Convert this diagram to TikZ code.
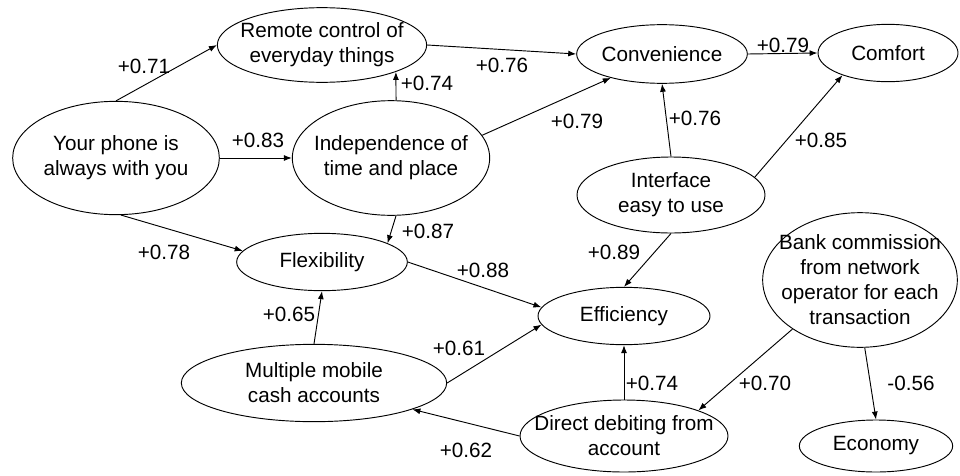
\documentclass[tikz,border=0pt]{standalone}
\usepackage{fontspec}
\setmainfont{Liberation Sans}
\usetikzlibrary{shapes.geometric,arrows.meta}

\begin{document}
\begin{tikzpicture}[x=0.75pt, y=-0.75pt,
  every node/.style={font=\fontsize{15.5}{18.75}\selectfont},
  factor/.style={ellipse, draw, line width=0.7pt, inner sep=-20pt, align=center},
  link/.style={-{Latex[length=6pt,width=4.5pt]}, line width=0.7pt},
  weight/.style={inner sep=0pt}]
  \useasboundingbox (0,0) rectangle (960,475);

  % Factors
  \node[factor, minimum width=155pt, minimum height=85pt] (phone) at (116,158) {Your phone is\\always with you};
  \node[factor, minimum width=157pt, minimum height=56pt] (remote) at (322,45) {Remote control of\\everyday things};
  \node[factor, minimum width=148pt, minimum height=86pt] (indep) at (391,158) {Independence of\\time and place};
  \node[factor, minimum width=128pt, minimum height=44pt] (conv) at (662,54) {Convenience};
  \node[factor, minimum width=105pt, minimum height=43pt] (comfort) at (888,53) {Comfort};
  \node[factor, minimum width=141pt, minimum height=57pt] (iface) at (671,195) {Interface\\easy to use};
  \node[factor, minimum width=128pt, minimum height=43pt] (flex) at (322,262) {Flexibility};
  \node[factor, minimum width=129pt, minimum height=43pt] (eff) at (624,316) {Efficiency};
  \node[factor, minimum width=146pt, minimum height=101pt] (bank) at (860,280) {Bank commission\\from network\\operator for each\\transaction};
  \node[factor, minimum width=199pt, minimum height=58pt] (multi) at (314,383) {Multiple mobile\\cash accounts};
  \node[factor, minimum width=156pt, minimum height=54pt] (direct) at (624,436) {Direct debiting from\\account};
  \node[factor, minimum width=115pt, minimum height=39pt] (econ) at (876,446) {Economy};

  % Paths
  \draw[link] (phone.north) -- (remote.west);
  \draw[link] (phone.east) -- (indep.west);
  \draw[link] (phone.-85) -- (flex.172);
  \draw[link] (indep.85) -- (remote.-20);
  \draw[link] (remote.east) -- (conv.west);
  \draw[link] (indep.14) -- (conv.-155);
  \draw[link] (conv.east) -- (comfort.west);
  \draw[link] (iface.north) -- (conv.south);
  \draw[link] (iface.12) -- (comfort.-154);
  \draw[link] (indep.-85) -- (flex.16);
  \draw[link] (flex.east) -- (eff.174);
  \draw[link] (iface.south) -- (eff.north);
  \draw[link] (multi.north) -- (flex.south);
  \draw[link] (multi.east) -- (eff.186);
  \draw[link] (direct.north) -- (eff.south);
  \draw[link] (direct.west) -- (multi.-15);
  \draw[link] (bank.-144) -- (direct.19);
  \draw[link] (bank.-86) -- (econ.north);

  % Weights
  \node[weight] (w1) at (144,66) {+0.71};
  \node[weight] (w2) at (258,140) {+0.83};
  \node[weight] (w3) at (164,252) {+0.78};
  \node[weight] (w4) at (427,83) {+0.74};
  \node[weight] (w5) at (502,65) {+0.76};
  \node[weight] (w6) at (577,121) {+0.79};
  \node[weight] (w7) at (783,45) {+0.79};
  \node[weight] (w8) at (695,118) {+0.76};
  \node[weight] (w9) at (821,140) {+0.85};
  \node[weight] (w10) at (428,231) {+0.87};
  \node[weight] (w11) at (483,270) {+0.88};
  \node[weight] (w12) at (614,252) {+0.89};
  \node[weight] (w13) at (289,314) {+0.65};
  \node[weight] (w14) at (459,348) {+0.61};
  \node[weight] (w15) at (652,383) {+0.74};
  \node[weight] (w16) at (466,450) {+0.62};
  \node[weight] (w17) at (765,383) {+0.70};
  \node[weight] (w18) at (911,383) {-0.56};
\end{tikzpicture}
\end{document}
